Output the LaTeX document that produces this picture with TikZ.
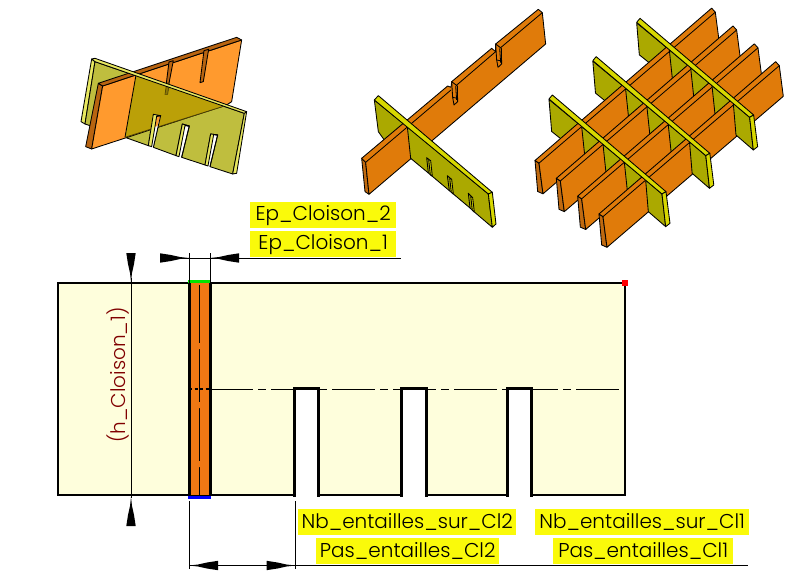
\documentclass[tikz,border=0pt]{standalone}
\usepackage{fontspec}
\setmainfont{Poppins Light}
\definecolor{paper}{HTML}{FEFEDC}
\definecolor{lab}{HTML}{FAFA0A}
\definecolor{oA}{HTML}{FF9A2E}
\definecolor{oAd}{HTML}{B86410}
\definecolor{olA}{HTML}{BFBE3E}
\definecolor{yA}{HTML}{E8E860}
\definecolor{ovA}{HTML}{BBA008}
\definecolor{oB}{HTML}{E07B0A}
\definecolor{oBd}{HTML}{C06A10}
\definecolor{olB}{HTML}{ABA900}
\definecolor{yB}{HTML}{D8D800}
\definecolor{oM}{HTML}{F07814}
\definecolor{dim}{HTML}{800000}
\tikzset{
  edge3d/.style={draw=black,line width=.85pt,line join=round},
  thin3d/.style={draw=black,line width=.8pt},
  lablabel/.style={fill=lab,inner sep=0pt,anchor=north west,align=center,font=\fontsize{20}{20}\selectfont,text=black},
  dimline/.style={draw=black,line width=.9pt},
  center/.style={draw=black,line width=.9pt,dash pattern=on 43pt off 5pt on 8pt off 5pt},
  partline/.style={draw=black,line width=3pt,line join=miter},
}
\newcommand{\tip}[3]{\fill[black,shift={(#1,#2)},rotate=#3] (0,0)--(-9,1)--(-18,3)--(-29,4.7)--(-29,-4.7)--(-18,-3)--(-9,-1)--cycle;}
\newcommand{\lab}[6]{\node[lablabel,minimum width=#3pt,minimum height=#4pt,text width=#3pt] (#5) at (#1,#2) {#6};}
\begin{document}
\begin{tikzpicture}[x=1pt,y=-1pt]
\useasboundingbox (0,0) rectangle (800,580);
% ---------- figure 1
\begin{scope}[shift={(50,0)},x=.3333pt,y=-.3333pt]
  \filldraw[fill=yA,edge3d] (125,177)--(135,185)--(105,372)--(93,365)--cycle;
  \filldraw[fill=olA,edge3d] (135,185)--(583,340)--(548,522)--(480,500)--(503,405)--(482,402)--(465,495)--(395,472)--(418,378)--(397,372)--(378,467)--(310,442)--(332,347)--(310,343)--(295,437)--(225,412)--(105,372)--cycle;
  \filldraw[fill=yA,edge3d] (583,340)--(590,335)--(560,520)--(548,522)--cycle;
  % orange plate
  \filldraw[fill=oAd,edge3d] (145,250)--(158,258)--(125,447)--(107,440)--cycle;
  \filldraw[fill=oA,edge3d] (158,258)--(575,120)--(545,305)--(530,315)--(125,447)--cycle;
  \filldraw[fill=oAd,edge3d] (145,250)--(560,112)--(575,120)--(158,258)--cycle;
  \filldraw[fill=oAd,edge3d] (357,186)--(370,182)--(357,250)--(349,250)--cycle;
  \filldraw[fill=oAd,edge3d] (462,152)--(476,148)--(460,245)--(450,248)--cycle;
  % seen through the olive plate
  \fill[ovA] (258,225)--(530,316)--(225,412)--cycle;
  \draw[edge3d] (258,225)--(225,412);
  \draw[line width=.8pt,draw=black!60!ovA] (225,412)--(530,316);
  \filldraw[fill=black!25!ovA,draw=black!60!ovA,line width=.6pt] (350,250)--(358,250)--(353,283)--(345,283)--cycle;
  \filldraw[fill=yA,edge3d] (125,177)--(135,175)--(590,335)--(583,340)--(135,185)--cycle;
  % slots
  \fill[white] (310,343)--(332,347)--(310,442)--(295,437)--cycle;
  \fill[oA] (312,344)--(332,347)--(322,378)--(304,385)--cycle;
  \filldraw[fill=yA,edge3d] (295,437)--(310,343)--(332,347)--(320,349)--(305,440)--cycle;
  \draw[edge3d] (320,349)--(332,347)--(310,442);
  \filldraw[fill=yA,edge3d] (378,467)--(397,372)--(418,378)--(405,377)--(387,470)--cycle;
  \draw[edge3d] (405,377)--(418,378)--(395,472);
  \filldraw[fill=yA,edge3d] (465,495)--(482,402)--(503,405)--(491,404)--(474,498)--cycle;
  \draw[edge3d] (491,404)--(503,405)--(480,500);
\end{scope}
% ---------- figure 2
\begin{scope}[shift={(350,0)},x=.3333pt,y=-.3333pt]
  \filldraw[fill=olB,edge3d] (73,300)--(172,380)--(110,430)--(85,395)--cycle;
  \filldraw[fill=oBd,edge3d] (35,475)--(47,487)--(57,583)--(45,575)--cycle;
  \filldraw[fill=oB,edge3d] (35,475)--(293,258)--(303,262)--(305,245)--(425,145)--(437,155)--(437,132)--(565,28)--(577,38)--(587,132)--(57,583)--(47,487)--cycle;
  \draw[thin3d] (47,487)--(303,270) (317,258)--(437,155) (452,143)--(577,38);
  \filldraw[fill=oB,edge3d] (305,245)--(322,258)--(323,305)--(312,315)--(308,292)--cycle;
  \draw[thin3d] (308,292)--(322,295) (317,258)--(320,300);
  \filldraw[fill=oB,edge3d] (437,132)--(454,145)--(455,192)--(444,202)--(440,180)--cycle;
  \draw[thin3d] (440,180)--(454,183) (449,145)--(452,188);
  \filldraw[fill=olB,edge3d] (172,380)--(415,582)--(427,682)--(373,636)--(360,624)--(310,582)--(298,572)--(247,529)--(235,519)--(182,475)--cycle;
  \filldraw[fill=yB,edge3d] (236,478)--(242,482)--(247,529)--(241,524)--cycle;
  \filldraw[fill=yB,edge3d] (299,533)--(305,538)--(310,582)--(304,577)--cycle;
  \filldraw[fill=yB,edge3d] (362,587)--(368,593)--(373,636)--(367,631)--cycle;
  \draw[edge3d] (236,478)--(230,473)--(235,519) (299,533)--(292,527)--(298,572) (362,587)--(355,580)--(360,624);
  \filldraw[fill=yB,edge3d] (73,300)--(85,287)--(427,577)--(415,582)--cycle;
  \filldraw[fill=yB,edge3d] (415,582)--(427,577)--(438,672)--(427,682)--cycle;
\end{scope}
% ---------- figure 3
\begin{scope}[shift={(530,0)},x=.3333pt,y=-.3333pt]
  % walls behind the first plate
  \foreach \j in {0,1,2}{
    \pgfmathsetmacro\cx{155+131.5*\j}\pgfmathsetmacro\cy{379.5-115*\j}
    \filldraw[fill=olB,edge3d] (\cx-98,\cy-81)--(\cx,\cy)--(\cx+10,\cy+95)--(\cx-90,\cy+15)--cycle;
  }
  \foreach \i in {0,1,2,3}{
    \pgfmathsetmacro\ax{27+64*\i}\pgfmathsetmacro\ay{489.5+53.5*\i}
    \filldraw[fill=oBd,edge3d] (\ax-12,\ay-8)--(\ax,\ay)--(\ax+12,\ay+92)--(\ax-4,\ay+85)--cycle;
    \filldraw[fill=oB,edge3d] (\ax-12,\ay-8)--(\ax+518,\ay-465)--(\ax+529,\ay-453)--(\ax+541,\ay-361)--(\ax+12,\ay+92)--(\ax,\ay)--cycle;
    \draw[thin3d] (\ax,\ay)--(\ax+529,\ay-453);
    \foreach \j in {0,1,2}{
      \pgfmathsetmacro\cx{155+64*\i+131.5*\j}\pgfmathsetmacro\cy{379.5+53.5*\i-115*\j}
      \ifnum\i<3
        \filldraw[fill=olB,edge3d] (\cx,\cy)--(\cx+64,\cy+53.5)--(\cx+74,\cy+148.5)--(\cx+10,\cy+95)--cycle;
      \else
        \filldraw[fill=olB,edge3d] (\cx,\cy)--(\cx+49,\cy+42)--(\cx+60,\cy+140)--(\cx+8,\cy+95)--cycle;
      \fi
    }
  }
  \foreach \j in {0,1,2}{
    \pgfmathsetmacro\cx{155+192+131.5*\j}\pgfmathsetmacro\cy{540-115*\j}
    \filldraw[fill=yB,edge3d] (\cx-290,\cy-243)--(\cx-280,\cy-255)--(\cx+61,\cy+35)--(\cx+49,\cy+42)--cycle;
    \filldraw[fill=yB,edge3d] (\cx+49,\cy+42)--(\cx+61,\cy+35)--(\cx+73,\cy+130)--(\cx+60,\cy+140)--cycle;
  }
\end{scope}
% ---------- main part
\filldraw[fill=paper,draw=black,line width=2.5pt] (58,283) rectangle (625,495);
\fill[white] (294,388) rectangle (318,497) (401,388) rectangle (426,497) (507,388) rectangle (531,497);
\fill[oM] (189,283) rectangle (210,495);
\draw[partline] (189,283)--(189,496) (210,283)--(210,496);
\draw[partline] (294,496.5)--(294,388)--(318,388)--(318,496.5) (401,496.5)--(401,388)--(426,388)--(426,496.5) (507,496.5)--(507,388)--(531,388)--(531,496.5);
\draw[draw=black,line width=1pt] (199.5,285)--(199.5,495);
\fill[oM] (199,343) rectangle (200.5,349) (199,402) rectangle (200.5,408) (199,461) rectangle (200.5,467);
\draw[draw=black,line width=2pt,dash pattern=on 3pt off 2.5pt] (189,389)--(210,389);
\draw[center] (210,389)--(625,389);
\draw[line width=3pt,draw=green!90!black] (188,281.5)--(211,281.5);
\draw[line width=3pt,draw=blue] (188,497)--(211,497);
\fill[red] (622,280) rectangle (628,286);
% ---------- dimensions
\coordinate (hT) at (131,278); \coordinate (hB) at (131,498);
\draw[dimline] (hT)--(hB);
\tip{131}{282}{-90}\tip{131}{497}{90}
\node[rotate=90,text=dim,font=\fontsize{20}{20}\selectfont] (hlab) at (118,375) {(h\_Cloison\_1)};
\coordinate (e1) at (189,253); \coordinate (e2) at (210,253);
\draw[dimline] (e1)--(189,283) (e2)--(210,283) (160,258)--(401,258);
\tip{189}{258}{0}\tip{210}{258}{180}
\coordinate (p1) at (189,501); \coordinate (p2) at (295.5,501);
\draw[dimline] (p1)--(189,569) (p2)--(295.5,569) (189,565.5)--(748,565.5);
\tip{189}{565.5}{180}\tip{295.5}{565.5}{0}
% ---------- labels
\lab{250}{202}{146}{26}{l1}{Ep\_Cloison\_2}
\lab{250}{231}{146}{26}{l2}{Ep\_Cloison\_1}
\lab{298}{509}{218}{26}{l3}{Nb\_entailles\_sur\_Cl2}
\lab{316}{538}{183}{26}{l4}{Pas\_entailles\_Cl2}
\lab{535}{509}{214}{26}{l5}{Nb\_entailles\_sur\_Cl1}
\lab{553}{538}{180}{26}{l6}{Pas\_entailles\_Cl1}
\end{tikzpicture}
\end{document}
